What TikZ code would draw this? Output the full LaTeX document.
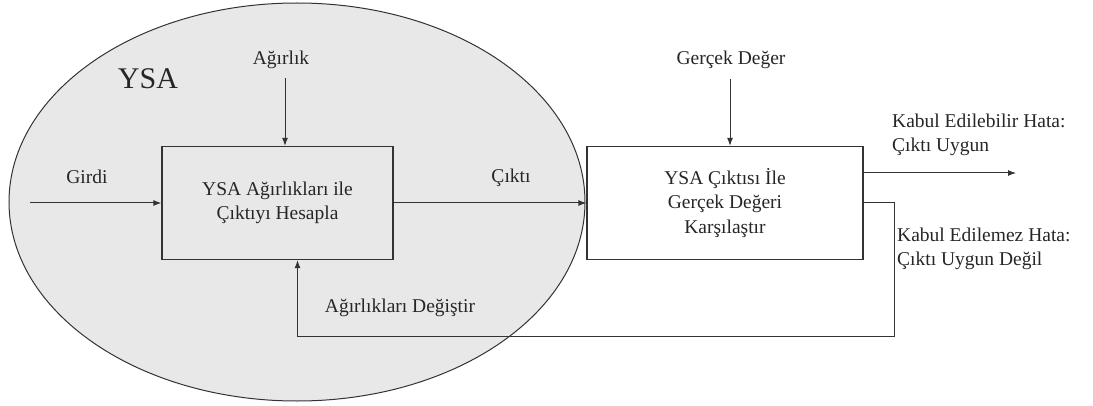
\documentclass[tikz,border=0pt]{standalone}
\usepackage{fontspec}
\setmainfont{Liberation Serif}
\usetikzlibrary{shapes.geometric, arrows.meta, positioning}
\definecolor{linegray}{HTML}{333333}
\definecolor{textgray}{HTML}{262626}
\definecolor{ysagray}{HTML}{E8E8E8}
\tikzstyle{process} = [rectangle, minimum height=113pt, text centered, align=center, draw=linegray, line width=1.3pt, text=textgray]
\tikzstyle{lbl} = [text=textgray, inner sep=0pt]
\tikzstyle{arrow} = [line width=1pt, ->, >={Latex[length=8pt,width=6pt]}, draw=linegray]

\begin{document}
\begin{tikzpicture}[x=1pt, y=1pt, font=\fontsize{19.5}{24.5}\selectfont]
\useasboundingbox (0,0) rectangle (1093,405);

% YSA region
\node (ysa) [ellipse, draw=linegray, fill=ysagray, line width=1pt, minimum width=576pt, minimum height=398pt, inner sep=0pt] at (297,203) {};
\node (ysatitle) [lbl, font=\fontsize{30}{32}\selectfont] at (148,326) {YSA};

% Process boxes
\node (calc) [process, minimum width=231pt] at (277.5,202) {YSA Ağırlıkları ile\\Çıktıyı Hesapla};
\node (cmp) [process, minimum width=276pt, fill=white] at (725,202) {YSA Çıktısı İle\\Gerçek Değeri\\Karşılaştır};

% Inputs and labels
\coordinate (in) at (30,202);
\node (girdi) [lbl] at (87,228) {Girdi};
\node (agirlik) [lbl] at (281,345) {Ağırlık};
\coordinate (agirlikin) at (285,327);
\node (cikti) [lbl] at (511,227) {Çıktı};
\node (gercek) [lbl] at (731,345) {Gerçek Değer};
\coordinate (gercekin) at (730,326);

% Results
\coordinate (ok) at (1016,232);
\node (kabul) [lbl, anchor=west, align=left] at (892,270) {Kabul Edilebilir Hata:\\Çıktı Uygun};
\node (red) [lbl, anchor=west, align=left] at (897,156) {Kabul Edilemez Hata:\\Çıktı Uygun Değil};
\coordinate (fbcorner) at (894,69);
\node (degistir) [lbl] at (400,97) {Ağırlıkları Değiştir};

% Connecting arrows
\draw [arrow] (in) -- (calc);
\draw [arrow] (agirlikin) -- (agirlikin |- calc.north);
\draw [arrow] (calc) -- (cmp);
\draw [arrow] (gercekin) -- (gercekin |- cmp.north);
\draw [arrow] (cmp.east |- ok) -- (ok);
\draw [arrow] (cmp.east) -| (fbcorner) -| ([xshift=20pt]calc.south);

\end{tikzpicture}
\end{document}
